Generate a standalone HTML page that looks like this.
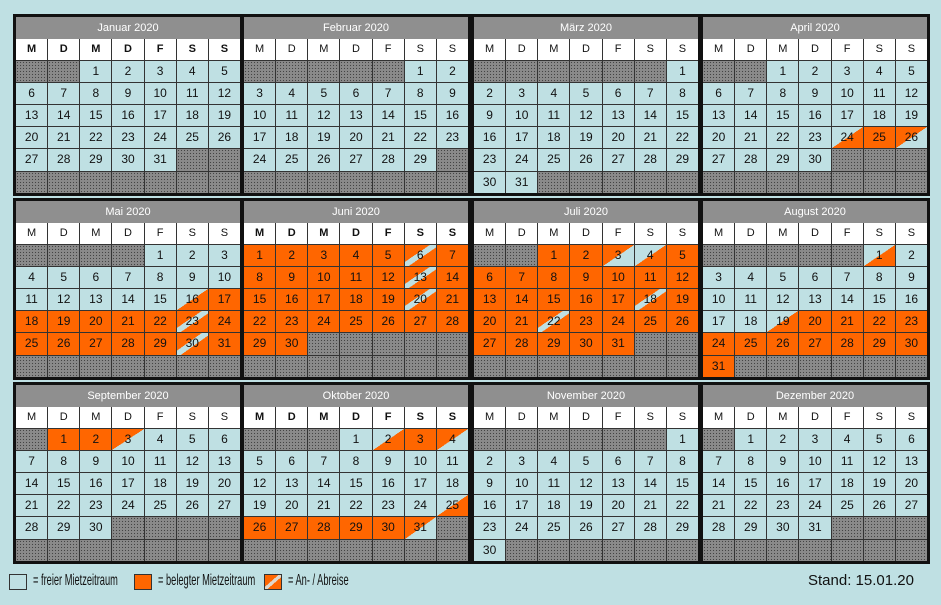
<!DOCTYPE html>
<html><head><meta charset="utf-8">
<style>
body{margin:0;width:941px;height:605px;background:#bfe0e3;font-family:"Liberation Sans",sans-serif;position:relative;overflow:hidden}
.m{position:absolute;width:224px;border:3px solid #111;background:#111}
.h{height:22px;background:#8f8f8f;color:#fff;font-size:11px;text-align:center;line-height:22px}
.g{display:grid;grid-template-columns:repeat(7,1fr);gap:1px;background:#333}
.c{height:21.1px;line-height:21.1px;text-align:center;font-size:12px;color:#111;background:#bfe0e3}
.w{background:#fff;font-size:11px}
.b .w{font-weight:bold}
.e{background-color:#8a8a8a;background-image:radial-gradient(#444 0.6px,transparent 0.8px);background-size:3px 3px}
.o{background:#ff6600}
.A{background:linear-gradient(to bottom right,#bfe0e3 50%,#ff6600 50%)}
.D{background:linear-gradient(to bottom right,#ff6600 50%,#bfe0e3 50%)}
.S{background:linear-gradient(to bottom right,#ff6600 40%,#bfe0e3 40%,#bfe0e3 56%,#ff6600 56%)}
.lg{position:absolute;top:572px;font-size:16px;color:#111;transform:scaleX(0.58);transform-origin:0 0;white-space:nowrap}
.box{position:absolute;top:574px;width:16px;height:14px;border:1px solid #333}
</style></head><body>
<div id="cal"></div>
<div class="box" style="left:9px;background:#bfe0e3"></div>
<div class="lg" style="left:33px">= freier Mietzeitraum</div>
<div class="box" style="left:134px;background:#ff6600"></div>
<div class="lg" style="left:158px">= belegter Mietzeitraum</div>
<div class="box" style="left:264px;background:linear-gradient(to bottom right,#ff6600 42%,#e0d8cc 42%,#e0d8cc 58%,#ff6600 58%)"></div>
<div class="lg" style="left:288px">= An- / Abreise</div>
<div class="lg" style="left:808px;font-size:15px;transform:none">Stand: 15.01.20</div>
<script>
var names=["Januar 2020","Februar 2020","März 2020","April 2020","Mai 2020","Juni 2020","Juli 2020","August 2020","September 2020","Oktober 2020","November 2020","Dezember 2020"];
var start=[2,5,6,2,4,0,2,5,1,3,6,1],len=[31,29,31,30,31,30,31,31,30,31,30,31];
var xs=[13,241,471,700],ys=[14,198,382];
var bold=[0,5,9];
var st={};
function r(m,a,b,t){for(var d=a;d<=b;d++)st[m+"-"+d]=t;}
st["3-24"]="A";st["3-25"]="o";st["3-26"]="D";
st["4-16"]="A";r(4,17,31,"o");st["4-23"]="S";st["4-30"]="S";
r(5,1,30,"o");st["5-6"]="S";st["5-13"]="S";st["5-20"]="S";
r(6,1,31,"o");st["6-3"]="D";st["6-4"]="A";st["6-18"]="S";st["6-22"]="S";
st["7-1"]="A";st["7-19"]="A";r(7,20,31,"o");
st["8-1"]="o";st["8-2"]="o";st["8-3"]="D";
st["9-2"]="A";st["9-3"]="o";st["9-4"]="D";st["9-25"]="A";r(9,26,30,"o");st["9-31"]="D";
var h="";var wd=["M","D","M","D","F","S","S"];
for(var m=0;m<12;m++){
 h+='<div class="m'+(bold.indexOf(m)>=0?" b":"")+'" style="left:'+xs[m%4]+'px;top:'+ys[Math.floor(m/4)]+'px"><div class="h">'+names[m]+'</div><div class="g">';
 for(var i=0;i<7;i++)h+='<div class="c w">'+wd[i]+'</div>';
 for(var k=0;k<42;k++){var d=k-start[m]+1;
  if(d<1||d>len[m])h+='<div class="c e"></div>';
  else{var t=st[m+"-"+d]||"";h+='<div class="c '+t+'">'+d+'</div>';}}
 h+='</div></div>';
}
document.getElementById("cal").innerHTML=h;
</script>
</body></html>
